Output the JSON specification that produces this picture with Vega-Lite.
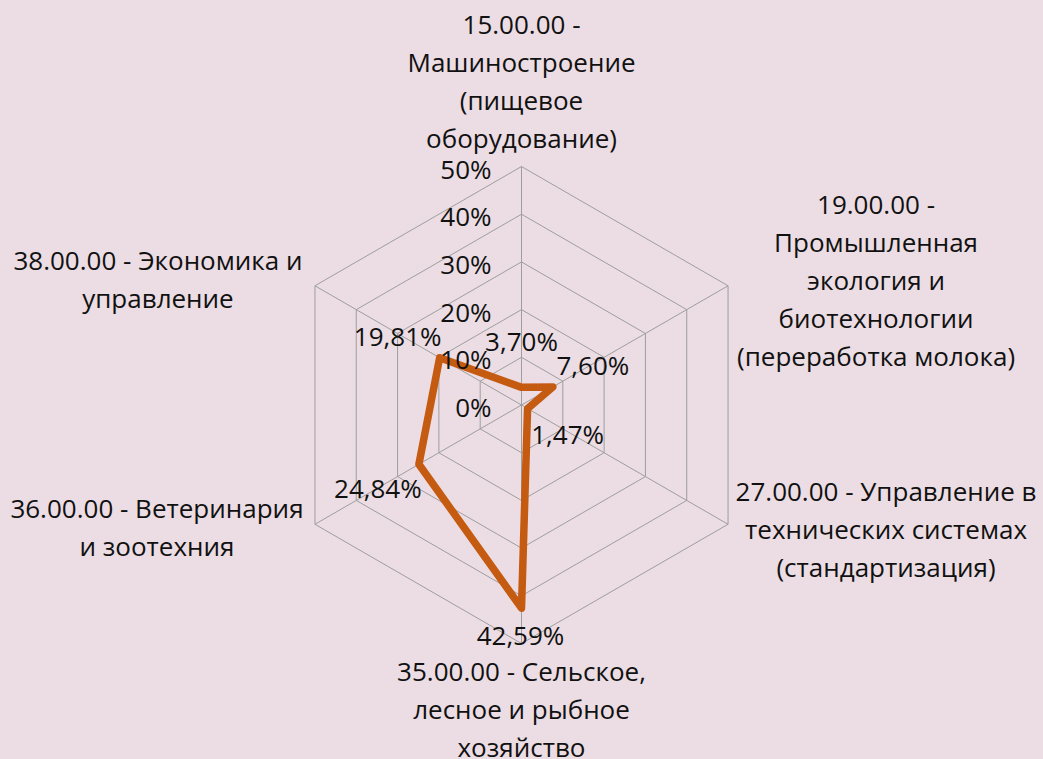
{
  "$schema": "https://vega.github.io/schema/vega-lite/v6.json",
  "width": 1043,
  "height": 759,
  "autosize": "none",
  "padding": 0,
  "background": "#EBDDE3",
  "config": {
    "view": {"stroke": null},
    "text": {"font": "Open Sans", "fontSize": 26, "color": "#111111"},
    "locale": {"number": {"decimal": ",", "thousands": " ", "grouping": [3], "currency": ["", " ₽"]}}
  },
  "datasets": {
    "main": [
      {"idx": 0, "category": "15.00.00 -\nМашиностроение\n(пищевое\nоборудование)", "share": 0.0370},
      {"idx": 1, "category": "19.00.00 -\nПромышленная\nэкология и\nбиотехнологии\n(переработка молока)", "share": 0.0760},
      {"idx": 2, "category": "27.00.00 - Управление в\nтехнических системах\n(стандартизация)", "share": 0.0147},
      {"idx": 3, "category": "35.00.00 - Сельское,\nлесное и рыбное\nхозяйство", "share": 0.4259},
      {"idx": 4, "category": "36.00.00 - Ветеринария\nи зоотехния", "share": 0.2484},
      {"idx": 5, "category": "38.00.00 - Экономика и\nуправление", "share": 0.1981}
    ],
    "grid": [
      {"level": 10, "idx": [0, 1, 2, 3, 4, 5]},
      {"level": 20, "idx": [0, 1, 2, 3, 4, 5]},
      {"level": 30, "idx": [0, 1, 2, 3, 4, 5]},
      {"level": 40, "idx": [0, 1, 2, 3, 4, 5]},
      {"level": 50, "idx": [0, 1, 2, 3, 4, 5]}
    ],
    "ticks": [{"t": 0}, {"t": 0.1}, {"t": 0.2}, {"t": 0.3}, {"t": 0.4}, {"t": 0.5}]
  },
  "encoding": {
    "x": {"field": "x", "type": "quantitative", "scale": {"domain": [-109.33, 109.33], "nice": false, "zero": false}, "axis": null},
    "y": {"field": "y", "type": "quantitative", "scale": {"domain": [-74.21, 84.91], "nice": false, "zero": false}, "axis": null}
  },
  "layer": [
    {
      "data": {"name": "grid"},
      "transform": [
        {"flatten": ["idx"]},
        {"calculate": "datum.idx * PI / 3", "as": "a"},
        {"calculate": "datum.level * sin(datum.a)", "as": "x"},
        {"calculate": "datum.level * cos(datum.a)", "as": "y"}
      ],
      "mark": {"type": "line", "interpolate": "linear-closed", "stroke": "#9E9E9E", "strokeWidth": 1},
      "encoding": {"detail": {"field": "level"}, "order": {"field": "idx"}}
    },
    {
      "data": {"name": "main"},
      "transform": [
        {"calculate": "datum.idx * PI / 3", "as": "a"},
        {"calculate": "50 * sin(datum.a)", "as": "x"},
        {"calculate": "50 * cos(datum.a)", "as": "y"}
      ],
      "mark": {"type": "rule", "stroke": "#9E9E9E", "strokeWidth": 1},
      "encoding": {"x2": {"datum": 0}, "y2": {"datum": 0}}
    },
    {
      "data": {"name": "main"},
      "transform": [
        {"calculate": "datum.idx * PI / 3", "as": "a"},
        {"calculate": "datum.share * 100 * sin(datum.a)", "as": "x"},
        {"calculate": "datum.share * 100 * cos(datum.a)", "as": "y"}
      ],
      "mark": {"type": "line", "interpolate": "linear-closed", "stroke": "#C55A11", "strokeWidth": 7.5, "strokeJoin": "round"},
      "encoding": {"order": {"field": "idx"}}
    },
    {
      "data": {"name": "ticks"},
      "transform": [
        {"calculate": "0", "as": "x"},
        {"calculate": "datum.t * 100", "as": "y"}
      ],
      "mark": {"type": "text", "align": "right", "baseline": "middle", "dx": -30, "dy": 4},
      "encoding": {"text": {"field": "t", "type": "quantitative", "format": ".0%"}}
    },
    {
      "data": {"name": "main"},
      "transform": [
        {"filter": "datum.idx == 0"},
        {"calculate": "0", "as": "x"},
        {"calculate": "50", "as": "y"}
      ],
      "mark": {"type": "text", "align": "center", "baseline": "middle", "lineBreak": "\n", "lineHeight": 38, "dx": 0, "dy": -141},
      "encoding": {"text": {"field": "category"}}
    },
    {
      "data": {"name": "main"},
      "transform": [
        {"filter": "datum.idx == 1"},
        {"calculate": "50 * sin(PI / 3)", "as": "x"},
        {"calculate": "50 * cos(PI / 3)", "as": "y"}
      ],
      "mark": {"type": "text", "align": "center", "baseline": "middle", "lineBreak": "\n", "lineHeight": 38, "dx": 148, "dy": -80},
      "encoding": {"text": {"field": "category"}}
    },
    {
      "data": {"name": "main"},
      "transform": [
        {"filter": "datum.idx == 2"},
        {"calculate": "50 * sin(2 * PI / 3)", "as": "x"},
        {"calculate": "50 * cos(2 * PI / 3)", "as": "y"}
      ],
      "mark": {"type": "text", "align": "center", "baseline": "middle", "lineBreak": "\n", "lineHeight": 38, "dx": 158, "dy": -31},
      "encoding": {"text": {"field": "category"}}
    },
    {
      "data": {"name": "main"},
      "transform": [
        {"filter": "datum.idx == 3"},
        {"calculate": "0", "as": "x"},
        {"calculate": "-50", "as": "y"}
      ],
      "mark": {"type": "text", "align": "center", "baseline": "middle", "lineBreak": "\n", "lineHeight": 38, "dx": 0, "dy": 29},
      "encoding": {"text": {"field": "category"}}
    },
    {
      "data": {"name": "main"},
      "transform": [
        {"filter": "datum.idx == 4"},
        {"calculate": "50 * sin(4 * PI / 3)", "as": "x"},
        {"calculate": "50 * cos(4 * PI / 3)", "as": "y"}
      ],
      "mark": {"type": "text", "align": "center", "baseline": "middle", "lineBreak": "\n", "lineHeight": 38, "dx": -158, "dy": -14},
      "encoding": {"text": {"field": "category"}}
    },
    {
      "data": {"name": "main"},
      "transform": [
        {"filter": "datum.idx == 5"},
        {"calculate": "50 * sin(5 * PI / 3)", "as": "x"},
        {"calculate": "50 * cos(5 * PI / 3)", "as": "y"}
      ],
      "mark": {"type": "text", "align": "center", "baseline": "middle", "lineBreak": "\n", "lineHeight": 38, "dx": -157, "dy": -24},
      "encoding": {"text": {"field": "category"}}
    },
    {
      "data": {"name": "main"},
      "transform": [
        {"filter": "datum.idx == 0"},
        {"calculate": "datum.share * 100 * sin(datum.idx * PI / 3)", "as": "x"},
        {"calculate": "datum.share * 100 * cos(datum.idx * PI / 3)", "as": "y"}
      ],
      "mark": {"type": "text", "align": "center", "baseline": "middle", "dx": 0, "dy": -44},
      "encoding": {"text": {"field": "share", "type": "quantitative", "format": ".2%"}}
    },
    {
      "data": {"name": "main"},
      "transform": [
        {"filter": "datum.idx == 1"},
        {"calculate": "datum.share * 100 * sin(datum.idx * PI / 3)", "as": "x"},
        {"calculate": "datum.share * 100 * cos(datum.idx * PI / 3)", "as": "y"}
      ],
      "mark": {"type": "text", "align": "center", "baseline": "middle", "dx": 40, "dy": -20},
      "encoding": {"text": {"field": "share", "type": "quantitative", "format": ".2%"}}
    },
    {
      "data": {"name": "main"},
      "transform": [
        {"filter": "datum.idx == 2"},
        {"calculate": "datum.share * 100 * sin(datum.idx * PI / 3)", "as": "x"},
        {"calculate": "datum.share * 100 * cos(datum.idx * PI / 3)", "as": "y"}
      ],
      "mark": {"type": "text", "align": "center", "baseline": "middle", "dx": 40, "dy": 27},
      "encoding": {"text": {"field": "share", "type": "quantitative", "format": ".2%"}}
    },
    {
      "data": {"name": "main"},
      "transform": [
        {"filter": "datum.idx == 3"},
        {"calculate": "datum.share * 100 * sin(datum.idx * PI / 3)", "as": "x"},
        {"calculate": "datum.share * 100 * cos(datum.idx * PI / 3)", "as": "y"}
      ],
      "mark": {"type": "text", "align": "center", "baseline": "middle", "dx": -1, "dy": 29},
      "encoding": {"text": {"field": "share", "type": "quantitative", "format": ".2%"}}
    },
    {
      "data": {"name": "main"},
      "transform": [
        {"filter": "datum.idx == 4"},
        {"calculate": "datum.share * 100 * sin(datum.idx * PI / 3)", "as": "x"},
        {"calculate": "datum.share * 100 * cos(datum.idx * PI / 3)", "as": "y"}
      ],
      "mark": {"type": "text", "align": "center", "baseline": "middle", "dx": -41, "dy": 26},
      "encoding": {"text": {"field": "share", "type": "quantitative", "format": ".2%"}}
    },
    {
      "data": {"name": "main"},
      "transform": [
        {"filter": "datum.idx == 5"},
        {"calculate": "datum.share * 100 * sin(datum.idx * PI / 3)", "as": "x"},
        {"calculate": "datum.share * 100 * cos(datum.idx * PI / 3)", "as": "y"}
      ],
      "mark": {"type": "text", "align": "center", "baseline": "middle", "dx": -42, "dy": -20},
      "encoding": {"text": {"field": "share", "type": "quantitative", "format": ".2%"}}
    }
  ]
}
